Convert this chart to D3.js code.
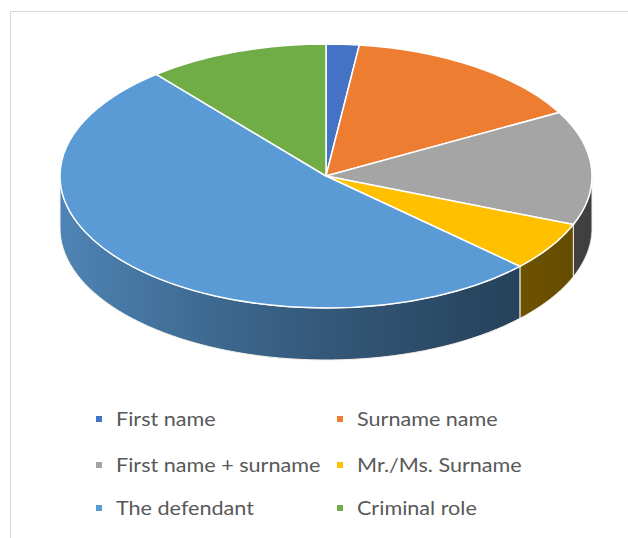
<!DOCTYPE html>
<html lang="en">
<head>
    <meta charset="UTF-8">
    <script src="https://cdnjs.cloudflare.com/ajax/libs/d3/7.8.5/d3.min.js"></script>
    <title>Name forms</title>
<style>
    body{
        margin: 0;
        background: #fff;
        font-family: Lato, 'Open Sans', sans-serif;
    }
    .legend-text{
        font-size: 20px;
        fill: #595959;
    }
</style>
</head>
<body>
<svg></svg>
<script>
    // chart values
    const categories = ['First name', 'Surname name', 'First name + surname', 'Mr./Ms. Surname', 'The defendant', 'Criminal role']
    const values = [2, 15, 14, 6, 52, 11]
    const palette = ['#4472C4', '#ED7D31', '#A5A5A5', '#FFC000', '#5B9BD5', '#70AD47']

    const W = 628, H = 538
    const cx = 326, cy = 176, rx = 266, ry = 132, depth = 52

    const svg = d3.select('svg')
        .attr('width', W)
        .attr('height', H)

    // chart area border (only top / left show in the picture)
    svg.append('rect')
        .attr('x', 10.5)
        .attr('y', 11.5)
        .attr('width', W + 20)
        .attr('height', H + 20)
        .attr('fill', 'none')
        .attr('stroke', '#d9d9d9')

    const color = d3.scaleOrdinal().domain(categories).range(palette)

    const arcs = d3.pie().sort(null).value(d => d)(values)
    arcs.forEach((a, i) => a.name = categories[i])

    // side shading goes from light on the left to dark on the right
    const shade = d3.scaleLinear().domain([0, 1]).range([0.45, 2.7])
    const defs = svg.append('defs')
    arcs.forEach((a, i) => {
        const g = defs.append('linearGradient')
            .attr('id', 'side' + i)
            .attr('gradientUnits', 'userSpaceOnUse')
            .attr('x1', cx - rx).attr('x2', cx + rx)
            .attr('y1', 0).attr('y2', 0)
        d3.range(0, 1.01, 0.25).forEach(t => {
            g.append('stop')
                .attr('offset', t)
                .attr('stop-color', d3.color(color(a.name)).darker(shade(t)))
        })
    })

    // ellipse points
    const topPt = t => [cx + rx * Math.sin(t), cy - ry * Math.cos(t)]
    const botPt = t => [cx + rx * Math.sin(t), cy - ry * Math.cos(t) + depth]
    const line = d3.line()

    const wallPath = (a) => {
        const a0 = Math.max(a.startAngle, Math.PI / 2)
        const a1 = Math.min(a.endAngle, Math.PI * 1.5)
        if (a1 <= a0) return null
        const n = 60
        const ts = d3.range(n + 1).map(k => a0 + (a1 - a0) * k / n)
        const pts = ts.map(topPt).concat(ts.slice().reverse().map(botPt))
        return line(pts) + 'Z'
    }

    // front walls
    svg.append('g')
        .selectAll('path')
        .data(arcs.filter(a => wallPath(a)))
        .enter()
        .append('path')
        .attr('d', wallPath)
        .attr('fill', d => 'url(#side' + d.index + ')')
        .attr('stroke', '#f4f0e6')
        .attr('stroke-width', 1)

    // top surface
    const arc = d3.arc().innerRadius(0).outerRadius(rx)
    svg.append('g')
        .attr('transform', 'translate(' + cx + ',' + cy + ') scale(1,' + (ry / rx) + ')')
        .selectAll('path')
        .data(arcs)
        .enter()
        .append('path')
        .attr('d', arc)
        .attr('fill', d => color(d.name))
        .attr('stroke', '#fff')
        .attr('stroke-width', 1.5)
        .attr('vector-effect', 'non-scaling-stroke')

    // legend, 2 columns x 3 rows
    const colX = d3.scaleOrdinal().domain([0, 1]).range([96, 337])
    const rowY = d3.scaleOrdinal().domain([0, 1, 2]).range([419, 465, 508])

    const item = svg.append('g')
        .selectAll('g')
        .data(categories)
        .enter()
        .append('g')
        .attr('transform', (d, i) => 'translate(' + colX(i % 2) + ',' + rowY(Math.floor(i / 2)) + ')')

    item.append('rect')
        .attr('x', 0)
        .attr('y', -3)
        .attr('width', 6)
        .attr('height', 6)
        .attr('fill', d => color(d))

    // text in the picture is a bit stretched sideways
    item.append('text')
        .attr('class', 'legend-text')
        .attr('transform', 'translate(20,0) scale(1.08,1)')
        .attr('dy', '0.35em')
        .text(d => d)
</script>
</body>
</html>
